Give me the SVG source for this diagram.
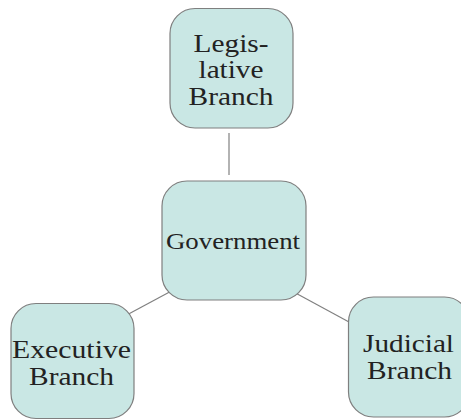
<svg xmlns="http://www.w3.org/2000/svg" width="461" height="420" viewBox="0 0 461 420">
<style>
.box{fill:#c9e7e4;stroke:#7f7f7f;stroke-width:1.2}
.lbl{font-family:"Liberation Serif","Times New Roman",serif;font-size:26px;fill:#222;text-anchor:middle}
.gov{font-size:24px}
.conn line{stroke:#808080;stroke-width:1.2}
</style>
<rect width="461" height="420" fill="#fff"/>
<g class="conn" id="connectors">
<line x1="229" y1="133" x2="229" y2="175"/>
<line x1="177" y1="288" x2="123" y2="317"/>
<line x1="290" y1="290" x2="349" y2="322"/>
</g>
<g id="legislative">
<rect class="box" x="170" y="8.5" width="123" height="119.5" rx="25"/>
<text class="lbl" x="231" y="52" textLength="75" lengthAdjust="spacingAndGlyphs">Legis-</text>
<text class="lbl" x="231" y="78" textLength="65" lengthAdjust="spacingAndGlyphs">lative</text>
<text class="lbl" x="231" y="104.5" textLength="85" lengthAdjust="spacingAndGlyphs">Branch</text>
</g>
<g id="government">
<rect class="box" x="162" y="181" width="144" height="119" rx="25"/>
<text class="lbl gov" x="233" y="249" textLength="134" lengthAdjust="spacingAndGlyphs">Government</text>
</g>
<g id="executive">
<rect class="box" x="11" y="303.5" width="123" height="115" rx="25"/>
<text class="lbl" x="71.5" y="358" textLength="119" lengthAdjust="spacingAndGlyphs">Executive</text>
<text class="lbl" x="71.5" y="385" textLength="85" lengthAdjust="spacingAndGlyphs">Branch</text>
</g>
<g id="judicial">
<rect class="box" x="348.5" y="297" width="121" height="120" rx="25"/>
<text class="lbl" x="408.5" y="352" textLength="91" lengthAdjust="spacingAndGlyphs">Judicial</text>
<text class="lbl" x="409.5" y="379" textLength="85" lengthAdjust="spacingAndGlyphs">Branch</text>
</g>
</svg>
